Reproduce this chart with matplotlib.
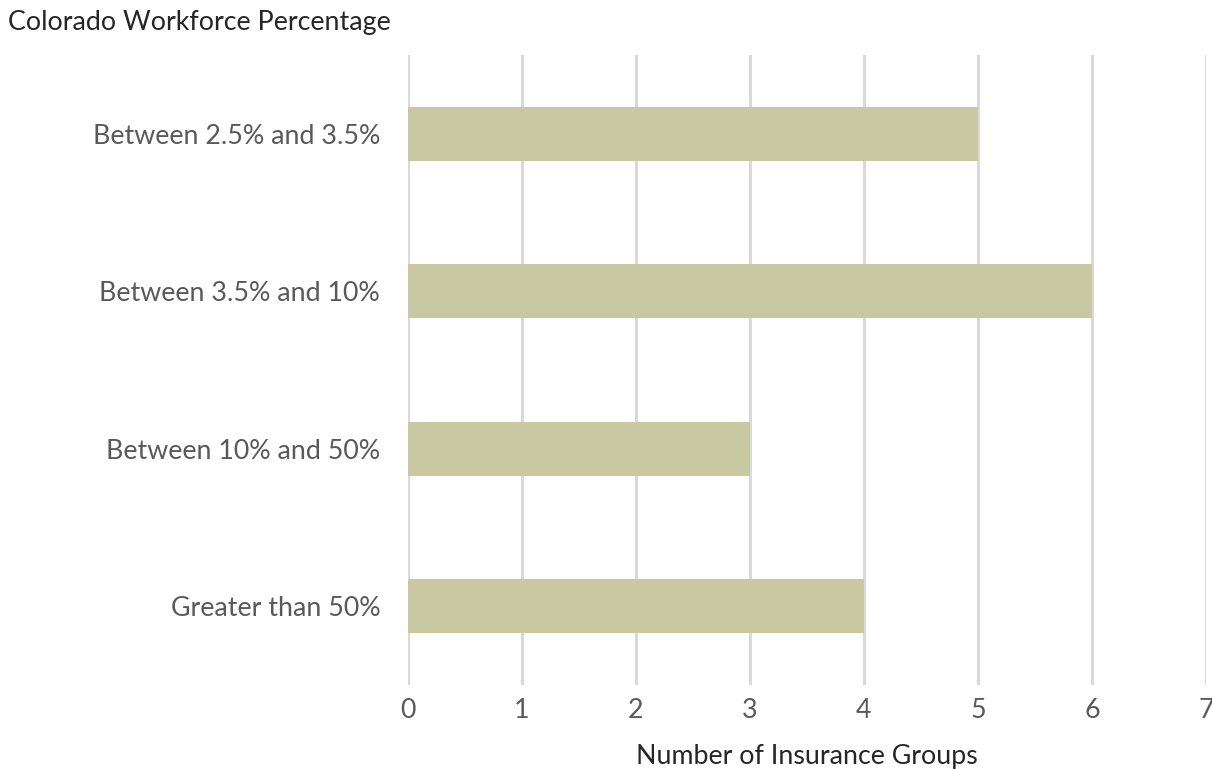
import matplotlib
matplotlib.use("Agg")
import matplotlib.pyplot as plt

categories = ["Between 2.5% and 3.5%", "Between 3.5% and 10%",
              "Between 10% and 50%", "Greater than 50%"]
counts = [5, 6, 3, 4]
x_ticks = [0, 1, 2, 3, 4, 5, 6, 7]

plt.rcParams["font.family"] = ["Lato", "DejaVu Sans"]

fig = plt.figure(figsize=(12.12, 7.69), dpi=100)
ax = fig.add_axes([0.3366, 0.1092, 0.6584, 0.8193])

y = list(range(len(categories)))
ax.barh(y, counts, height=0.345, color="#C8C9A2", zorder=3)

ax.set_ylim(len(categories) - 0.5, -0.5)
ax.set_xlim(0, 7)
ax.set_xticks(x_ticks)
ax.set_xticklabels([str(t) for t in x_ticks])
ax.set_yticks(y)
ax.set_yticklabels(categories)

ax.grid(axis="x", color="#D9D9D9", linewidth=2.2, zorder=0)
for s in ax.spines.values():
    s.set_visible(False)
ax.tick_params(axis="both", length=0, colors="#595959", labelsize=19.3)
ax.tick_params(axis="y", pad=20)
ax.tick_params(axis="x", pad=9)

fig.text(0.0066, 0.971, "Colorado Workforce Percentage", fontsize=19.3,
         color="#262626", ha="left", va="center")
fig.text(0.666, 0.016, "Number of Insurance Groups", fontsize=19.3,
         color="#262626", ha="center", va="center")

fig.savefig("out.png", dpi=100)
